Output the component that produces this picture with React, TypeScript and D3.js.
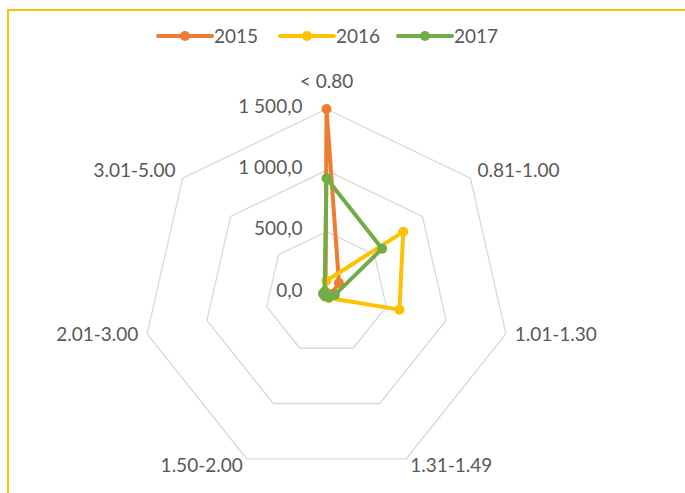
import React, { useEffect, useRef } from "react";
import * as d3 from "d3";

const CATEGORIES = [
  "< 0.80",
  "0.81-1.00",
  "1.01-1.30",
  "1.31-1.49",
  "1.50-2.00",
  "2.01-3.00",
  "3.01-5.00",
];
const SERIES_NAMES = ["2015", "2016", "2017"];
const VALUES_2015 = [1500, 130, 40, 20, 15, 10, 10];
const VALUES_2016 = [100, 800, 610, 45, 30, 20, 15];
const VALUES_2017 = [935, 580, 70, 40, 30, 30, 20];
const TICKS = [0, 500, 1000, 1500];
const TICK_LABELS = ["0,0", "500,0", "1 000,0", "1 500,0"];
const COLORS = ["#ED7D31", "#FFC000", "#70AD47"];

export default function App() {
  const ref = useRef(null);

  useEffect(() => {
    const svg = d3.select(ref.current);
    svg.selectAll("*").remove();

    const W = 685,
      H = 493;
    const cx = 326.5,
      cy = 293,
      R = 184;
    const font = "Lato, 'Open Sans', sans-serif";
    const fs = 19;
    const textColor = "#595959";

    // frame
    svg
      .append("rect")
      .attr("width", W)
      .attr("height", H)
      .attr("fill", "#fff");
    svg
      .append("rect")
      .attr("x", 8)
      .attr("y", 10)
      .attr("width", 720)
      .attr("height", 520)
      .attr("fill", "none")
      .attr("stroke", "#FFC000")
      .attr("stroke-width", 2);

    const n = CATEGORIES.length;
    const angle = (i) => (i * 2 * Math.PI) / n;
    const r = d3.scaleLinear().domain([0, 1500]).range([0, R]);

    const g = svg.append("g").attr("transform", `translate(${cx},${cy})`);

    // grid rings
    const ring = d3
      .lineRadial()
      .angle((d, i) => angle(i))
      .radius((d) => r(d))
      .curve(d3.curveLinearClosed);

    TICKS.filter((t) => t > 0).forEach((t) => {
      g.append("path")
        .attr("d", ring(CATEGORIES.map(() => t)))
        .attr("fill", "none")
        .attr("stroke", "#d9d9d9")
        .attr("stroke-width", 1.3);
    });

    // value labels
    TICKS.forEach((t, i) => {
      g.append("text")
        .attr("x", -24)
        .attr("y", -r(t) - 3)
        .attr("dy", "0.35em")
        .attr("text-anchor", "end")
        .attr("font-family", font)
        .attr("font-size", fs)
        .attr("fill", textColor)
        .text(TICK_LABELS[i]);
    });

    // category labels
    CATEGORIES.forEach((c, i) => {
      const a = angle(i);
      const s = Math.sin(a),
        co = Math.cos(a);
      const pad = 9;
      let x = (R + pad) * s;
      let y = -(R + pad) * co;
      let anchor = "middle";
      if (s > 0.1) anchor = "start";
      else if (s < -0.1) anchor = "end";
      if (anchor === "middle") y -= 17;
      g.append("text")
        .attr("x", x)
        .attr("y", y - 2)
        .attr("dy", "0.35em")
        .attr("text-anchor", anchor)
        .attr("font-family", font)
        .attr("font-size", fs)
        .attr("fill", textColor)
        .text(c);
    });

    // series
    const allSeries = [VALUES_2015, VALUES_2016, VALUES_2017];
    allSeries.forEach((vals, k) => {
      g.append("path")
        .attr("d", ring(vals))
        .attr("fill", "none")
        .attr("stroke", COLORS[k])
        .attr("stroke-width", 4)
        .attr("stroke-linejoin", "round");
      g.selectAll(null)
        .data(vals)
        .enter()
        .append("circle")
        .attr("cx", (d, i) => r(d) * Math.sin(angle(i)))
        .attr("cy", (d, i) => -r(d) * Math.cos(angle(i)))
        .attr("r", 5)
        .attr("fill", COLORS[k]);
    });

    // legend
    const legendX = [158, 280, 398];
    SERIES_NAMES.forEach((name, k) => {
      const lg = svg
        .append("g")
        .attr("transform", `translate(${legendX[k]},36)`);
      lg.append("line")
        .attr("x1", 0)
        .attr("x2", 54)
        .attr("stroke", COLORS[k])
        .attr("stroke-width", 4)
        .attr("stroke-linecap", "round");
      lg.append("circle").attr("cx", 27).attr("r", 5).attr("fill", COLORS[k]);
      lg.append("text")
        .attr("x", 56)
        .attr("dy", "0.35em")
        .attr("font-family", font)
        .attr("font-size", fs)
        .attr("fill", textColor)
        .text(name);
    });
  }, []);

  return (
    <svg
      ref={ref}
      width={685}
      height={493}
      style={{ position: "absolute", left: 0, top: 0 }}
    />
  );
}
